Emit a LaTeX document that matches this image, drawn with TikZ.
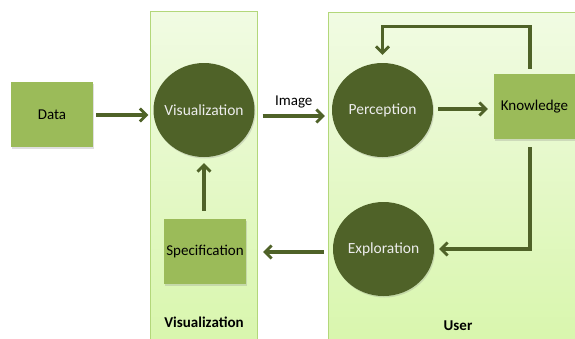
\documentclass[tikz,border=0pt]{standalone}
\usepackage{fontspec}
\setmainfont{Carlito}
\usetikzlibrary{arrows.meta,shapes.geometric,shadows}
\definecolor{olive}{HTML}{4F6228}
\definecolor{leaf}{HTML}{9BBB59}
\definecolor{paneltop}{HTML}{F1FBE3}
\definecolor{panelbot}{HTML}{D8F6AC}
\definecolor{panelline}{HTML}{B3D77A}
\newcommand{\zw}[1]{\makebox[0pt]{#1}}
\tikzset{
  panel/.style={draw=panelline, line width=1pt, top color=paneltop, bottom color=panelbot},
  circ/.style={ellipse, fill=olive, minimum width=101pt, minimum height=94pt, inner sep=0pt,
    text=white!93!black, font=\fontsize{15.5}{18}\selectfont,
    drop shadow={shadow xshift=1pt, shadow yshift=-1.5pt, opacity=0.25}},
  box/.style={rectangle, fill=leaf, minimum width=82pt, minimum height=65pt, inner sep=0pt,
    font=\fontsize{15}{18}\selectfont,
    drop shadow={shadow xshift=1pt, shadow yshift=-1.5pt, opacity=0.25}},
  arr/.style={draw=olive, line width=3.2pt, -{Straight Barb[length=6.5pt,width=13pt,line width=2.8pt]}},
  lab/.style={font=\fontsize{15}{18}\selectfont},
  plab/.style={font=\bfseries\fontsize{15}{18}\selectfont}
}
\begin{document}
\begin{tikzpicture}[x=1pt,y=-1pt]
\useasboundingbox (0,0) rectangle (575,338);
\clip (0,0) rectangle (575,338);
\fill[white] (0,0) rectangle (575,338);
% panels
\path[panel] (150,11) rectangle (257,350);
\path[panel] (328,12) rectangle (590,350);
\node[plab] (vislab) at (204,322) {Visualization};
\node[plab] (userlab) at (458,326) {User};
% nodes
\node[box] (data) at (52,114.5) {Data};
\node[circ] (vis) at (204,110) {\zw{Visualization}};
\node[box] (spec) at (205,251.5) {\zw{Specification}};
\node[circ] (perc) at (382.5,110) {\zw{Perception}};
\node[box, minimum width=81pt] (know) at (534.5,106.5) {\zw{Knowledge}};
\node[circ] (expl) at (383.5,249) {\zw{Exploration}};
% connectors
\draw[arr, shorten <=3pt, shorten >=5pt] ([yshift=-0.5pt]data.east) -- ([yshift=-0.5pt]data.east -| vis.west);
\draw[arr] ([shift={(8,6)}]vis.east) -- node[lab, above=3pt] (imglab) {Image} ([shift={(-7,6)}]perc.west);
\draw[arr, shorten <=5pt, shorten >=6pt] ([yshift=1pt]perc.east) -- ([yshift=1pt]perc.east -| know.west);
\draw[arr] ([xshift=-4.5pt,yshift=5pt]know.north) -- ++(0,-42) -| ([yshift=8pt]perc.north);
\draw[arr] ([xshift=-4.5pt,yshift=-8pt]know.south) |- ([xshift=5pt]expl.east);
\draw[arr, shorten <=9pt, shorten >=17pt] ([yshift=-3pt]expl.west) -- ([yshift=-3pt]expl.west -| spec.east);
\draw[arr, shorten <=8pt, shorten >=6pt] ([xshift=-1pt]spec.north) -- ([xshift=-1pt]spec.north |- vis.south);
\end{tikzpicture}
\end{document}
